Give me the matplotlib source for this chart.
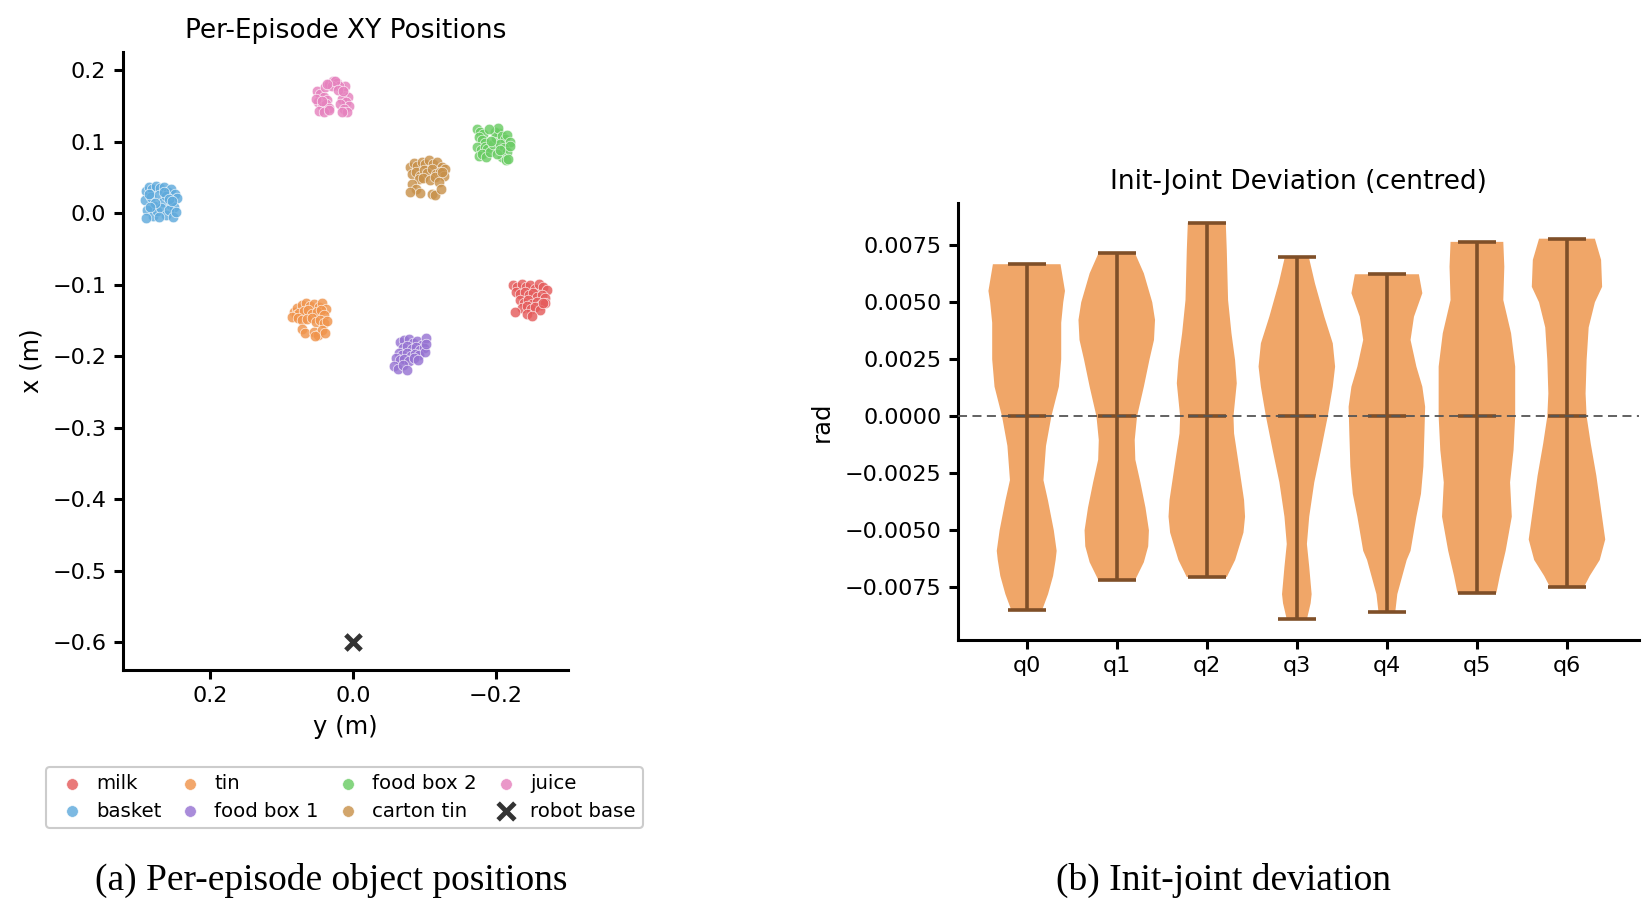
import numpy as np
import matplotlib
matplotlib.use("Agg")
import matplotlib.pyplot as plt

# ---------------- data: per-episode object XY positions (metres) ----------------
object_names = ["milk", "basket", "tin", "food box 1", "food box 2", "carton tin", "juice"]
object_colors = ["#e55c5c", "#5faadc", "#f0944c", "#9673d2", "#6acc64", "#c8914b", "#e682be"]

milk_y = [-0.224, -0.230, -0.236, -0.242, -0.248, -0.254, -0.260, -0.266, -0.271, -0.228,
          -0.234, -0.240, -0.246, -0.252, -0.258, -0.264, -0.269, -0.233, -0.239, -0.245,
          -0.251, -0.257, -0.263, -0.268, -0.237, -0.243, -0.249, -0.255, -0.261, -0.226,
          -0.244, -0.250, -0.266]
milk_x = [-0.100, -0.104, -0.099, -0.103, -0.101, -0.106, -0.099, -0.104, -0.108, -0.110,
          -0.113, -0.111, -0.115, -0.112, -0.117, -0.114, -0.119, -0.121, -0.125, -0.122,
          -0.127, -0.124, -0.128, -0.126, -0.132, -0.130, -0.134, -0.131, -0.136, -0.138,
          -0.141, -0.144, -0.126]

basket_y = [0.290, 0.286, 0.281, 0.276, 0.270, 0.264, 0.259, 0.254, 0.249, 0.246,
            0.291, 0.283, 0.278, 0.272, 0.266, 0.261, 0.255, 0.250, 0.288, 0.280,
            0.274, 0.268, 0.262, 0.257, 0.252, 0.247, 0.285, 0.277, 0.265, 0.258,
            0.289, 0.271, 0.253, 0.284]
basket_x = [0.031, 0.036, 0.033, 0.038, 0.035, 0.037, 0.030, 0.034, 0.027, 0.021,
            0.018, 0.022, 0.010, 0.025, 0.016, 0.024, 0.012, 0.008, 0.004, -0.004,
            0.003, 0.007, -0.002, 0.005, -0.006, 0.002, 0.026, 0.014, 0.029, 0.019,
            -0.007, -0.005, 0.017, 0.009]

tin_y = [0.083, 0.078, 0.072, 0.066, 0.060, 0.054, 0.048, 0.043, 0.038, 0.080,
         0.075, 0.069, 0.063, 0.057, 0.051, 0.045, 0.040, 0.085, 0.077, 0.071,
         0.064, 0.058, 0.052, 0.046, 0.041, 0.036, 0.072, 0.067, 0.055, 0.049,
         0.044, 0.039, 0.053]
tin_x = [-0.138, -0.132, -0.128, -0.125, -0.130, -0.127, -0.131, -0.126, -0.134, -0.143,
         -0.140, -0.137, -0.135, -0.141, -0.138, -0.136, -0.142, -0.145, -0.147, -0.150,
         -0.148, -0.146, -0.152, -0.149, -0.153, -0.151, -0.162, -0.168, -0.166, -0.170,
         -0.163, -0.168, -0.172]

food1_y = [-0.066, -0.072, -0.078, -0.084, -0.090, -0.096, -0.102, -0.070, -0.076, -0.082,
           -0.088, -0.094, -0.099, -0.064, -0.069, -0.075, -0.081, -0.087, -0.093, -0.100,
           -0.060, -0.066, -0.072, -0.079, -0.085, -0.057, -0.063, -0.070, -0.076, -0.102,
           -0.091]
food1_x = [-0.180, -0.178, -0.176, -0.182, -0.179, -0.185, -0.175, -0.188, -0.186, -0.190,
           -0.187, -0.192, -0.189, -0.195, -0.198, -0.196, -0.200, -0.197, -0.199, -0.194,
           -0.203, -0.206, -0.204, -0.207, -0.202, -0.214, -0.218, -0.212, -0.219, -0.183,
           -0.205]

food2_y = [-0.174, -0.178, -0.182, -0.176, -0.180, -0.185, -0.173, -0.179, -0.184, -0.188,
           -0.176, -0.181, -0.186, -0.192, -0.196, -0.200, -0.204, -0.198, -0.203, -0.208,
           -0.212, -0.216, -0.220, -0.206, -0.211, -0.215, -0.219, -0.209, -0.214, -0.201,
           -0.193, -0.217, -0.205, -0.190]
food2_x = [0.118, 0.114, 0.110, 0.106, 0.102, 0.098, 0.092, 0.088, 0.093, 0.090,
           0.080, 0.083, 0.078, 0.085, 0.097, 0.105, 0.112, 0.113, 0.119, 0.108,
           0.104, 0.109, 0.100, 0.096, 0.091, 0.086, 0.094, 0.079, 0.074, 0.083,
           0.101, 0.076, 0.088, 0.117]

carton_y = [-0.080, -0.085, -0.090, -0.096, -0.101, -0.106, -0.112, -0.118, -0.124, -0.129,
            -0.082, -0.088, -0.094, -0.099, -0.104, -0.110, -0.116, -0.122, -0.127, -0.092,
            -0.098, -0.108, -0.114, -0.120, -0.125, -0.082, -0.088, -0.094, -0.110, -0.115,
            -0.123, -0.080]
carton_x = [0.064, 0.070, 0.066, 0.072, 0.068, 0.074, 0.069, 0.071, 0.065, 0.062,
            0.055, 0.058, 0.052, 0.060, 0.056, 0.061, 0.054, 0.058, 0.052, 0.047,
            0.049, 0.046, 0.050, 0.044, 0.057, 0.040, 0.033, 0.028, 0.027, 0.025,
            0.034, 0.030]

juice_y = [0.050, 0.046, 0.041, 0.036, 0.049, 0.044, 0.038, 0.033, 0.047, 0.040, 0.034, 0.052, 0.043,
           0.017, 0.012, 0.007, 0.015, 0.010, 0.005, 0.018, 0.013, 0.008, 0.016, 0.011,
           0.039, 0.033, 0.028, 0.023, 0.019, 0.030, 0.025, 0.036, 0.021, 0.014]
juice_x = [0.171, 0.166, 0.162, 0.158, 0.155, 0.150, 0.153, 0.147, 0.143, 0.141, 0.144, 0.160, 0.157,
           0.176, 0.168, 0.162, 0.160, 0.155, 0.150, 0.152, 0.146, 0.141, 0.142, 0.178,
           0.176, 0.180, 0.184, 0.182, 0.177, 0.178, 0.185, 0.181, 0.172, 0.170]

object_ys = [milk_y, basket_y, tin_y, food1_y, food2_y, carton_y, juice_y]
object_xs = [milk_x, basket_x, tin_x, food1_x, food2_x, carton_x, juice_x]

robot_base_y = [0.0]
robot_base_x = [-0.6]

# ---------------- data: init-joint deviation (rad), centred ----------------
joint_names = ["q0", "q1", "q2", "q3", "q4", "q5", "q6"]
joint_min = [-0.00851, -0.00719, -0.00705, -0.00890, -0.00860, -0.00774, -0.00749]
joint_max = [0.00667, 0.00715, 0.00848, 0.00697, 0.00623, 0.00765, 0.00779]
joint_mean = [0.0, 0.0, 0.0, 0.0, 0.0, 0.0, 0.0]
# density profiles (value levels and relative density)
density_levels = [
    [-0.00851, -0.0084, -0.0078, -0.0070, -0.0063, -0.0059, -0.0050, -0.0037, -0.0028, -0.0013, 0.0, 0.0013, 0.0025, 0.0041, 0.0050, 0.0055, 0.00667],
    [-0.00719, -0.0064, -0.0057, -0.0050, -0.0040, -0.0029, -0.0019, -0.00104, 0.0, 0.0013, 0.0025, 0.00335, 0.00423, 0.0050, 0.00627, 0.00715],
    [-0.00705, -0.0063, -0.0051, -0.0044, -0.00367, -0.0022, -0.00075, 0.0, 0.00145, 0.00247, 0.00364, 0.0051, 0.0073, 0.00848],
    [-0.00890, -0.0082, -0.0078, -0.0066, -0.0056, -0.0044, -0.0029, -0.00148, 0.0, 0.0013, 0.00218, 0.0032, 0.00437, 0.00583, 0.00697],
    [-0.00860, -0.0078, -0.0063, -0.0059, -0.0044, -0.0034, -0.0022, -0.00075, 0.00042, 0.0013, 0.00218, 0.00335, 0.00437, 0.0054, 0.00623],
    [-0.00774, -0.0070, -0.0059, -0.0044, -0.0029, -0.00148, 0.0, 0.00218, 0.00364, 0.0051, 0.00656, 0.00765],
    [-0.00749, -0.0070, -0.0063, -0.0054, -0.0041, -0.0026, -0.0012, 0.0, 0.0010, 0.00247, 0.0039, 0.0050, 0.00568, 0.00686, 0.00779],
]
density_values = [
    [15, 16, 21, 26, 28.5, 29.5, 26.7, 21, 16.5, 19, 24.3, 31.7, 34, 34, 36, 37.7, 33.3],
    [18, 26.7, 31, 31.7, 28.3, 23.3, 18.3, 17.7, 20, 26.7, 32.3, 36.7, 37.7, 35, 26.7, 18],
    [20, 28.4, 36.7, 38.3, 37.3, 32.3, 27.3, 26.7, 30, 28.3, 24.7, 21.3, 20, 19],
    [10, 13.7, 14.7, 12.3, 10, 12.3, 17.3, 24, 30.7, 35.7, 38, 35.7, 27.3, 18, 12],
    [8, 10, 19, 22.7, 28.3, 32.7, 35, 36, 36.7, 34, 28.3, 22.7, 26, 34, 30.7],
    [19, 22.3, 28, 34, 32.3, 35.7, 37.3, 37.3, 33.3, 25.7, 26.7, 25.7],
    [16.4, 22, 31.7, 37, 33, 28.4, 23, 19, 18, 19, 21, 27, 34, 33, 27],
]

# ---------------- figure ----------------
W, H = 1652, 901
fig = plt.figure(figsize=(W / 100, H / 100), dpi=100)
plt.rcParams['font.family'] = ['DejaVu Sans']

TICK_FS = 16
LABEL_FS = 17.5
TITLE_FS = 19
LEGEND_FS = 14.2
SPINE_LW = 2.2

def style_axes(ax):
    for s in ("top", "right"):
        ax.spines[s].set_visible(False)
    for s in ("left", "bottom"):
        ax.spines[s].set_linewidth(SPINE_LW)
    ax.tick_params(axis="both", which="major", length=6.8, width=SPINE_LW,
                   labelsize=TICK_FS, pad=5)

# ----- left: scatter -----
ax1 = fig.add_axes([122.7 / W, 1 - 670 / H, 445.3 / W, 618.3 / H])
for name, col, ys, xs in zip(object_names, object_colors, object_ys, object_xs):
    ax1.scatter(ys, xs, s=58, color=col, alpha=0.82, edgecolors="white",
                linewidths=0.5, label=name, zorder=3)
ax1.scatter(robot_base_y, robot_base_x, marker="x", s=120, color="#333333",
            linewidths=3.5, label="robot base", zorder=4)
ax1.set_xlim(0.3221, -0.3007)
ax1.set_ylim(-0.6387, 0.2256)
ax1.set_xticks([0.2, 0.0, -0.2])
ax1.set_yticks([0.2, 0.1, 0.0, -0.1, -0.2, -0.3, -0.4, -0.5, -0.6])
style_axes(ax1)
ax1.set_title("Per-Episode XY Positions", fontsize=TITLE_FS, pad=10)
ax1.set_xlabel("y (m)", fontsize=LABEL_FS, labelpad=6)
ax1.set_ylabel("x (m)", fontsize=LABEL_FS, labelpad=6)

order = ["milk", "basket", "tin", "food box 1", "food box 2", "carton tin", "juice", "robot base"]
handles, labels = ax1.get_legend_handles_labels()
hmap = dict(zip(labels, handles))
leg = fig.legend([hmap[k] for k in order], order, ncol=4, loc="center",
                 bbox_to_anchor=(344.5 / W, 1 - 797.5 / H), fontsize=LEGEND_FS,
                 frameon=True, fancybox=True, framealpha=1, edgecolor="#cccccc",
                 handletextpad=0.3, columnspacing=0.55, borderpad=0.38,
                 labelspacing=0.42, markerscale=1.1, handlelength=1.85)
leg.get_frame().set_linewidth(1.5)

# ----- right: violins -----
ax2 = fig.add_axes([958 / W, 1 - 640 / H, 681 / W, 437.3 / H])
positions = np.arange(len(joint_names))
vpstats = []
for lv, dv, mn, mx, me in zip(density_levels, density_values, joint_min, joint_max, joint_mean):
    vpstats.append(dict(coords=np.array(lv), vals=np.array(dv, dtype=float),
                        mean=me, median=me, min=mn, max=mx, quantiles=[]))
parts = ax2.violin(vpstats, positions=positions, widths=0.85,
                   showmeans=True, showextrema=True, showmedians=False)
for b in parts["bodies"]:
    b.set_facecolor("#f0a668")
    b.set_edgecolor("none")
    b.set_alpha(1.0)
for key in ("cmeans", "cmins", "cmaxes", "cbars"):
    parts[key].set_color("#7f4f28")
    parts[key].set_linewidth(2.6)
ax2.axhline(0, color="#555555", linestyle=(0, (5, 3)), linewidth=1.3, zorder=4)
ax2.set_xlim(-0.763, 6.80)
ax2.set_ylim(-0.00981, 0.009368)
ax2.set_xticks(positions)
ax2.set_xticklabels(joint_names)
ax2.set_yticks([-0.0075, -0.005, -0.0025, 0.0, 0.0025, 0.005, 0.0075])
ax2.yaxis.set_major_formatter(matplotlib.ticker.FuncFormatter(lambda v, p: f"{v:.4f}".replace("-", "\u2212")))
style_axes(ax2)
ax2.set_title("Init-Joint Deviation (centred)", fontsize=TITLE_FS, pad=10)
ax2.set_ylabel("rad", fontsize=LABEL_FS, labelpad=8)

# ----- captions -----
fig.text(331 / W, 1 - 880 / H, "(a) Per-episode object positions",
         family="Liberation Serif", fontsize=27, ha="center", va="center")
fig.text(1223 / W, 1 - 880 / H, "(b) Init-joint deviation",
         family="Liberation Serif", fontsize=27, ha="center", va="center")

fig.savefig("out.png", dpi=100)
